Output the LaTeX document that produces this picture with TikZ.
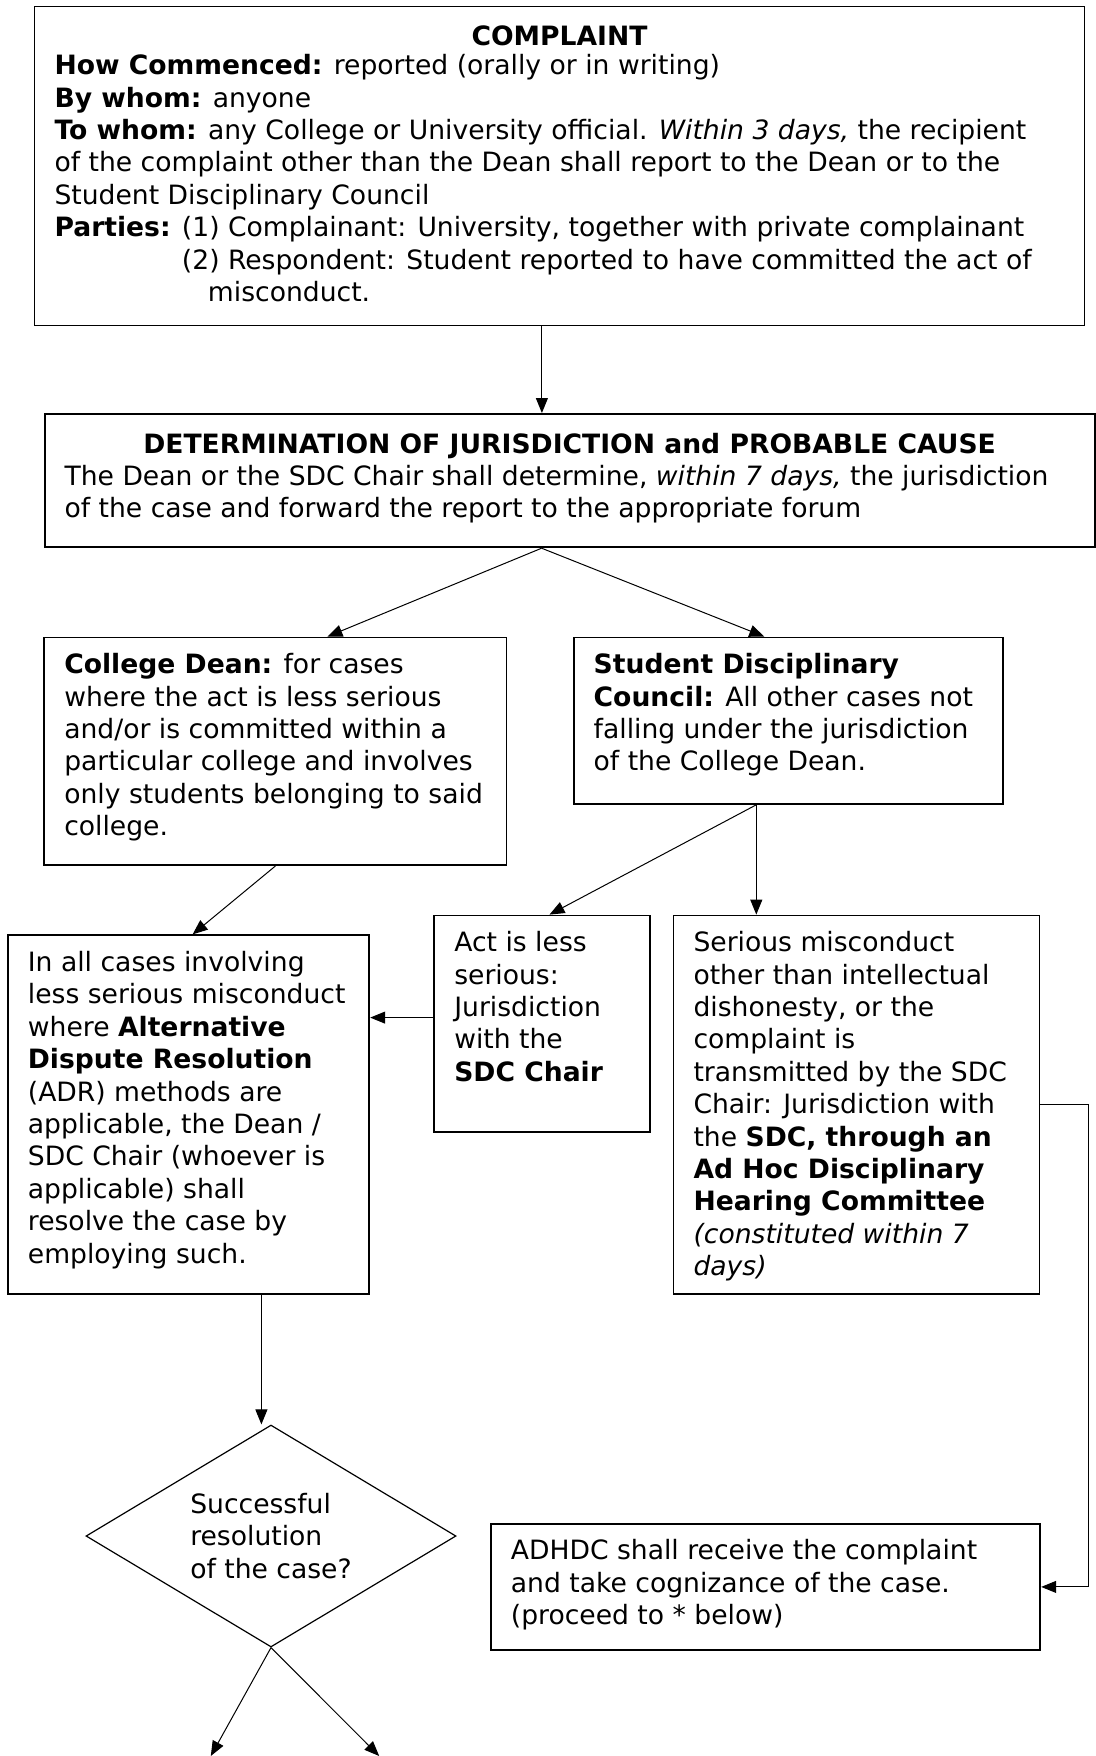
\documentclass[tikz,border=0pt]{standalone}
\usepackage{fontspec}
\setmainfont{DejaVu Sans}
\usetikzlibrary{arrows.meta,shapes.geometric}
\newcommand{\boxfont}{\fontsize{13.3}{16.2}\selectfont}
\newcommand{\boxbody}[3]{\begin{minipage}[t][#2][t]{#1}\raggedright #3\end{minipage}}
\begin{document}
\begin{tikzpicture}[x=1pt,y=-1pt,
  box/.style={draw,line width=0.9pt,anchor=north west,inner xsep=10pt,inner ysep=8pt,font=\boxfont},
  link/.style={-{Triangle[length=7.5pt,width=6pt]},line width=0.5pt},
  dia/.style={draw,shape=diamond,aspect=1.67,inner sep=0pt,minimum width=185pt,minimum height=111pt,line width=0.6pt,align=left,font=\boxfont}]
  \useasboundingbox (0,0) rectangle (548,878);
  \node[box] (cmp) at (16.8,2.8) {\boxbody{505pt}{143.5pt}{\vspace*{1.5pt}{\centering\textbf{COMPLAINT}\par}\vspace*{-1.5pt}
    \textbf{How Commenced:} reported (orally or in writing)\\
    \textbf{By whom:} anyone\\
    \textbf{To whom:} any College or University official. \textit{Within 3 days,} the recipient\\
    of the complaint other than the Dean shall report to the Dean or to the\\
    Student Disciplinary Council\\
    \textbf{Parties:} (1) Complainant: University, together with private complainant\\
    \phantom{\textbf{Parties:} }(2) Respondent: Student reported to have committed the act of\\
    \phantom{\textbf{Parties:} }\hspace*{13pt}misconduct.}};
  \node[box] (det) at (21.85,206.5) {\boxbody{505pt}{50.7pt}{\vspace*{1.5pt}{\centering\textbf{DETERMINATION OF JURISDICTION and PROBABLE CAUSE}\par}
    The Dean or the SDC Chair shall determine, \textit{within 7 days,} the jurisdiction\\
    of the case and forward the report to the appropriate forum}};
  \node[box] (cd) at (21.7,318.3) {\boxbody{211.1pt}{97.8pt}{\textbf{College Dean:} for cases\\
    where the act is less serious\\ and/or is committed within a\\ particular college and involves\\
    only students belonging to said\\ college.}};
  \node[box] (sdc) at (286.4,318.3) {\boxbody{194.6pt}{67.2pt}{\textbf{Student Disciplinary}\\
    \textbf{Council:} All other cases not\\ falling under the jurisdiction\\ of the College Dean.}};
  \node[box] (adr) at (3.5,467.2) {\boxbody{160.7pt}{163.5pt}{In all cases involving\\
    less serious misconduct\\ where \textbf{Alternative}\\ \textbf{Dispute Resolution}\\
    (ADR) methods are\\ applicable, the Dean /\\ SDC Chair (whoever is\\ applicable) shall\\
    resolve the case by\\ employing such.}};
  \node[box] (act) at (216.7,457.3) {\boxbody{88pt}{92.1pt}{Act is less\\ serious:\\ Jurisdiction\\ with the\\ \textbf{SDC Chair}}};
  \node[box] (ser) at (336.3,457.3) {\boxbody{163pt}{173.4pt}{Serious misconduct\\
    other than intellectual\\ dishonesty, or the\\ complaint is\\ transmitted by the SDC\\
    Chair: Jurisdiction with\\ the \textbf{SDC, through an}\\ \textbf{Ad Hoc Disciplinary}\\
    \textbf{Hearing Committee}\\ \textit{(constituted within 7}\\ \textit{days)}}};
  \node[box] (adh) at (245,761.4) {\boxbody{254.7pt}{47.2pt}{ADHDC shall receive the complaint\\
    and take cognizance of the case.\\ (proceed to * below)}};
  \node[dia] (res) at (135.5,768) {Successful\\ resolution\\ of the case?};
  \coordinate (endl) at (105.4,878);
  \coordinate (endr) at (189.6,878);
  \draw[link] ([xshift=-8.8pt]cmp.south) -- ([xshift=-8.8pt]cmp.south |- det.north);
  \draw[link] ([xshift=-14pt]det.south) -- ([xshift=26pt]cd.north);
  \draw[link] ([xshift=-14pt]det.south) -- ([xshift=-12pt]sdc.north);
  \draw[link] (cd.south) -- ([xshift=2pt]adr.north);
  \draw[link] ([xshift=-16pt]sdc.south) -- ([xshift=3.6pt]act.north);
  \draw[link] ([xshift=-16pt]sdc.south) -- ([xshift=-16pt]sdc.south |- ser.north);
  \draw[link] ([yshift=3pt]act.west) -- ([yshift=3pt]act.west -| adr.east);
  \draw[link] (ser.east) -- ++(24.2,0) |- (adh.east);
  \draw[link] ([xshift=-4.8pt]res.north |- adr.south) -- ([xshift=-4.8pt]res.north);
  \draw[link] (res.south) -- (endl);
  \draw[link] (res.south) -- (endr);
\end{tikzpicture}
\end{document}
